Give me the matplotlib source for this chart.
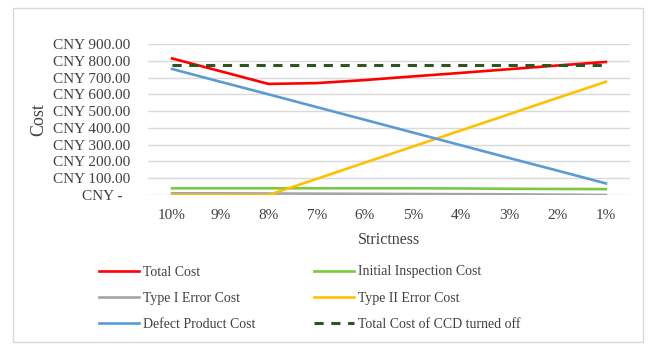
import matplotlib
matplotlib.use('Agg')
import matplotlib.pyplot as plt
from matplotlib.patches import Rectangle
from matplotlib.ticker import FuncFormatter

# Data
strictness = ['10%', '9%', '8%', '7%', '6%', '5%', '4%', '3%', '2%', '1%']
total_cost = [814, 738, 662, 667, 685, 707, 728, 750, 772, 793]
initial_inspection = [40, 40, 40, 40, 40, 40, 39, 37, 36, 35]
type1_error = [10, 10, 9, 8, 7, 6, 5, 4, 2, 0]
type2_error = [0, 0, 0, 96, 193, 289, 386, 482, 579, 675]
defect_product = [751, 675, 600, 524, 448, 372, 296, 220, 145, 69]
ccd_off_total = [775] * 10

plt.rcParams['font.family'] = ['Liberation Serif', 'DejaVu Serif']

fig = plt.figure(figsize=(6.53, 3.45), dpi=100)
# light chart-area border
fig.patches.append(Rectangle((13 / 653, 3 / 345), 630 / 653, 334 / 345,
                             transform=fig.transFigure, fill=False,
                             edgecolor='#d9d9d9', linewidth=1))
ax = fig.add_axes([148 / 653, 1 - 195 / 345, 482 / 653, 151 / 345])

x = range(len(strictness))
lw = 1.9
l1, = ax.plot(x, total_cost, color='#ff0000', linewidth=lw, label='Total Cost')
l2, = ax.plot(x, initial_inspection, color='#7ac943', linewidth=lw, label='Initial Inspection Cost')
l3, = ax.plot(x, type1_error, color='#a5a5a5', linewidth=lw, label='Type I Error Cost')
l4, = ax.plot(x, type2_error, color='#ffc000', linewidth=lw, label='Type II Error Cost')
l5, = ax.plot(x, defect_product, color='#5b9bd5', linewidth=lw, label='Defect Product Cost')
l6, = ax.plot(x, ccd_off_total, color='#2e5420', linewidth=2.2, linestyle=(0, (3, 2.5)),
              label='Total Cost of CCD turned off')

ax.set_xlim(-0.5, len(strictness) - 0.5)
ax.set_ylim(0, 900)
ax.set_yticks(range(0, 901, 100))
ax.yaxis.set_major_formatter(FuncFormatter(
    lambda v, p: 'CNY -  ' if v == 0 else f'CNY {v:,.2f}'))
ax.set_xticks(list(x))
ax.set_xticklabels(strictness)
ax.tick_params(axis='both', length=0, labelsize=11, colors='#404040')
ax.tick_params(axis='x', pad=10)
ax.tick_params(axis='y', pad=13)
for s in ax.spines.values():
    s.set_visible(False)
ax.grid(axis='y', color='#d9d9d9', linewidth=1)
ax.set_axisbelow(True)

ax.set_xlabel('Strictness', fontsize=11.5, color='#404040', labelpad=7)
ax.set_ylabel('Cost', fontsize=13, color='#404040', labelpad=4)

fig.legend(handles=[l1, l3, l5, l2, l4, l6], ncol=2, frameon=False,
           loc='upper left', bbox_to_anchor=(86 / 653, 1 - 253 / 345),
           fontsize=10, handlelength=2.9, handletextpad=0.3,
           columnspacing=4.2, labelspacing=0.95, labelcolor='#404040')

fig.savefig('out.png', dpi=100)
